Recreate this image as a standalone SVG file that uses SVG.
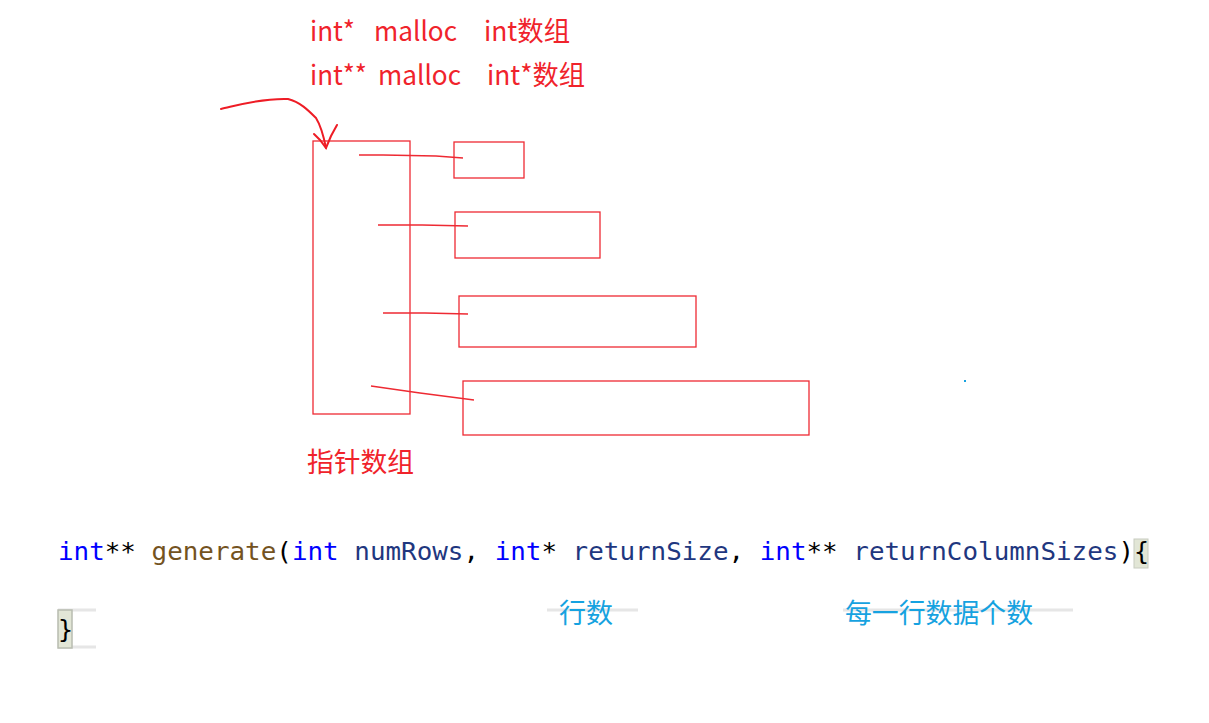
<svg xmlns="http://www.w3.org/2000/svg" width="1209" height="723" viewBox="0 0 1209 723">
<style>
.red{font-family:"Noto Sans CJK SC","Liberation Sans",sans-serif;font-size:27px;fill:#f0232b}
.blue{font-family:"Noto Sans CJK SC","Liberation Sans",sans-serif;font-size:27px;fill:#16a2e0}
.box{fill:none;stroke:#ee2a33;stroke-width:1.3}
.link{fill:none;stroke:#ee2a33;stroke-width:1.3}
.code{font-family:"DejaVu Sans Mono","Liberation Mono",monospace;font-size:25px;fill:#1f377f}
.kw{fill:#0000ff}.fn{fill:#74531f}.pn{fill:#000000}
.grey{stroke:#e6e6e6;stroke-width:3}
</style>
<rect width="1209" height="723" fill="#ffffff"/>
<g id="labels">
<text class="red" y="41"><tspan x="310" textLength="45" lengthAdjust="spacingAndGlyphs">int*</tspan><tspan x="374" textLength="83" lengthAdjust="spacingAndGlyphs">malloc</tspan><tspan x="484" textLength="86" lengthAdjust="spacingAndGlyphs">int数组</tspan></text>
<text class="red" y="85"><tspan x="310" textLength="57" lengthAdjust="spacingAndGlyphs">int**</tspan><tspan x="378" textLength="83" lengthAdjust="spacingAndGlyphs">malloc</tspan><tspan x="487" textLength="98" lengthAdjust="spacingAndGlyphs">int*数组</tspan></text>
</g>
<g id="pointer-array">
<rect class="box" x="313" y="141" width="97" height="273"/>
<text class="red" x="307" y="472" textLength="107" lengthAdjust="spacingAndGlyphs">指针数组</text>
</g>
<g id="row1"><rect class="box" x="454" y="142" width="70" height="36"/></g>
<g id="row2"><rect class="box" x="455" y="212" width="145" height="46"/></g>
<g id="row3"><rect class="box" x="459" y="296" width="237" height="51"/></g>
<g id="row4"><rect class="box" x="463" y="381" width="346" height="54"/></g>
<g id="connectors">
<path class="link" d="M359 155 L383 155 L436 156 L463 158"/>
<path class="link" d="M378 225 L422 225 L468 226"/>
<path class="link" d="M383 313 L425 313 L468 314"/>
<path class="link" d="M371 386 L420 393 L474 400"/>
<path fill="none" stroke="#ee1c25" stroke-width="2" stroke-linecap="round" d="M221 109 C235 106 260 98 288 99 C300 102 308 110 316 118 C321 126 324 138 326 148"/>
<path fill="none" stroke="#ee1c25" stroke-width="2" stroke-linecap="round" d="M314 134 L320 140 L326 148 L331 136 L337 125"/>
</g>
<g id="code">
<text class="code" x="58" y="560" textLength="1076" lengthAdjust="spacingAndGlyphs"><tspan class="kw">int</tspan><tspan class="pn">** </tspan><tspan class="fn">generate</tspan><tspan class="pn">(</tspan><tspan class="kw">int</tspan> numRows<tspan class="pn">, </tspan><tspan class="kw">int</tspan><tspan class="pn">* </tspan>returnSize<tspan class="pn">, </tspan><tspan class="kw">int</tspan><tspan class="pn">** </tspan>returnColumnSizes<tspan class="pn">)</tspan></text>
<rect x="1134" y="539" width="14" height="29" fill="#e2e6d6" stroke="#c8ccc0" stroke-width="1"/>
<text class="code pn" x="1134" y="560" style="fill:#000">{</text>
<line class="grey" x1="58" y1="610" x2="96" y2="610"/>
<line class="grey" x1="58" y1="647" x2="96" y2="647"/>
<rect x="58" y="610" width="14" height="38" fill="#e2e6d6" stroke="#b8bcb0" stroke-width="1.5"/>
<text class="code" x="58" y="638" style="fill:#000">}</text>
</g>
<g id="annotations">
<line class="grey" x1="547" y1="610" x2="638" y2="610"/>
<line class="grey" x1="843" y1="610" x2="1073" y2="610"/>
<text class="blue" x="559" y="623" textLength="54" lengthAdjust="spacingAndGlyphs">行数</text>
<text class="blue" x="845" y="623" textLength="188" lengthAdjust="spacingAndGlyphs">每一行数据个数</text>
<rect x="964" y="380" width="2" height="2" fill="#16a2e0"/>
</g>
</svg>
